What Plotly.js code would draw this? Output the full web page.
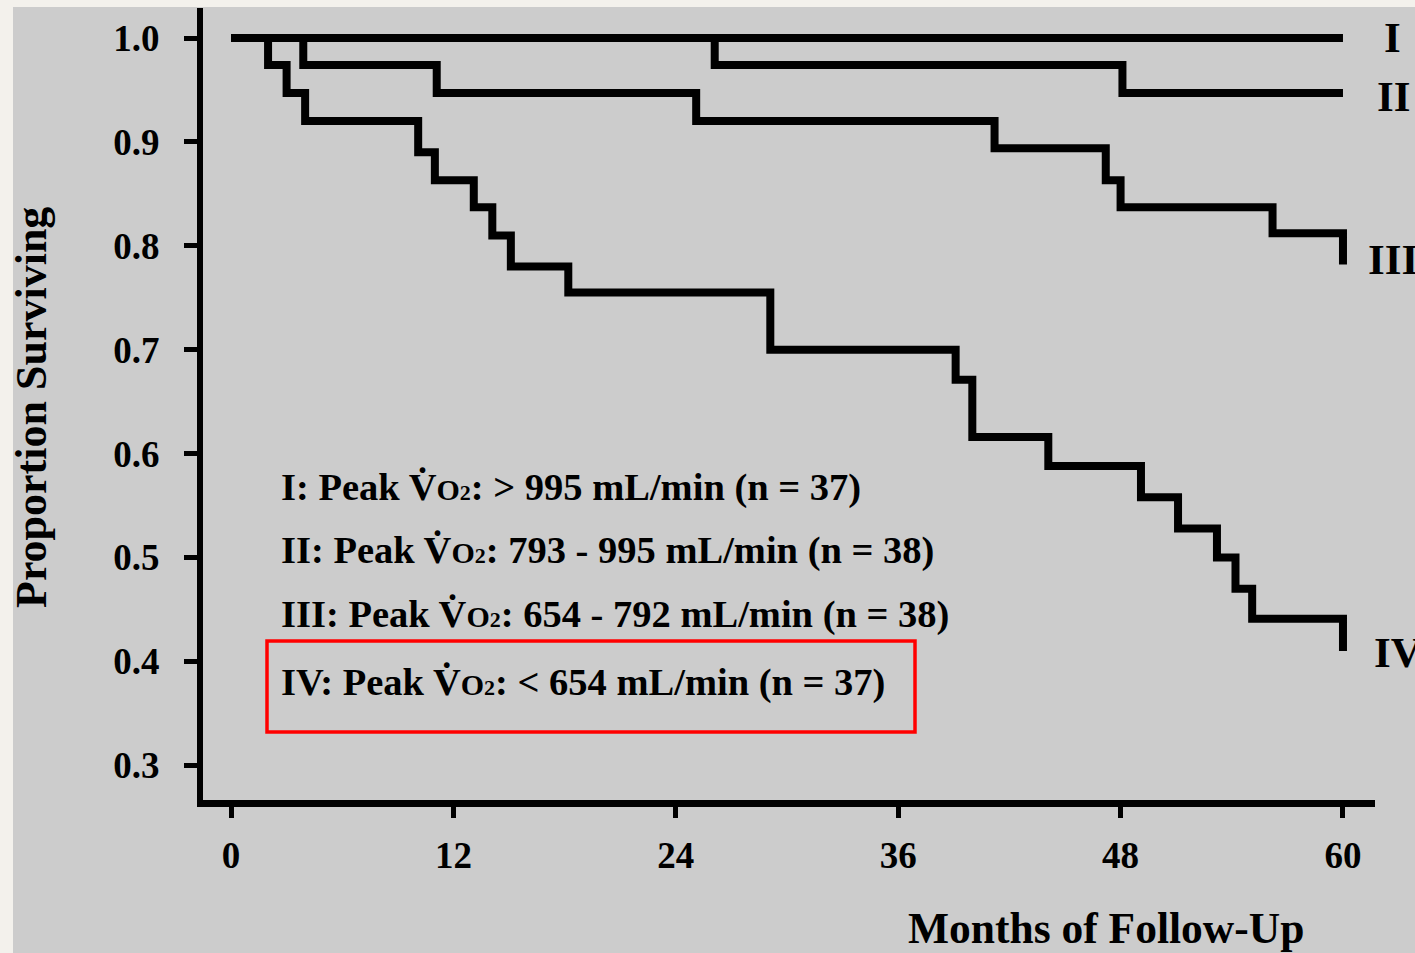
<!DOCTYPE html>
<html>
<head>
<meta charset="utf-8">
<script src="https://cdn.plot.ly/plotly-3.0.1.min.js"></script>
<style>html,body{margin:0;padding:0;background:#cccccc;}#chart{width:1415px;height:953px;}</style>
</head>
<body>
<div id="chart"></div>
<script>
// ---- data ----
const monthsI = [0, 60];
const survI = [1.0, 1.0];

const monthsII = [0, 26.1, 48.1, 60];
const survII = [1.0, 0.974, 0.947, 0.947];

const monthsIII = [0, 3.9, 11.1, 25.1, 41.2, 47.2, 48.0, 56.2, 60];
const survIII = [1.0, 0.974, 0.947, 0.920, 0.894, 0.863, 0.837, 0.812, 0.782];

const monthsIV = [0, 2.0, 3.0, 4.0, 10.1, 11.0, 13.1, 14.1, 15.1, 18.2, 29.1, 39.1, 40.0, 44.1, 49.1, 51.1, 53.2, 54.2, 55.1, 60];
const survIV = [1.0, 0.974, 0.947, 0.920, 0.890, 0.863, 0.837, 0.810, 0.780, 0.755, 0.700, 0.671, 0.616, 0.588, 0.558, 0.528, 0.500, 0.470, 0.441, 0.410];

const xTicks = [0, 12, 24, 36, 48, 60];
const yTicks = [1.0, 0.9, 0.8, 0.7, 0.6, 0.5, 0.4, 0.3];
const yTickText = ['1.0', '0.9', '0.8', '0.7', '0.6', '0.5', '0.4', '0.3'];

const curveLabels = ['I', 'II', 'III', 'IV'];
const vo2 = 'V\u0307<span style="font-size:30px">O</span><span style="font-size:22px">2</span>';
const legendLines = [
  'I: Peak ' + vo2 + ': > 995 mL/min (n = 37)',
  'II: Peak ' + vo2 + ': 793 - 995 mL/min (n = 38)',
  'III: Peak ' + vo2 + ': 654 - 792 mL/min (n = 38)',
  'IV: Peak ' + vo2 + ': < 654 mL/min (n = 37)'
];

// ---- layout helpers (pixel -> paper) ----
const L = 203, R = 1375, T = 8, B = 800;
const px = x => (x - L) / (R - L);
const py = y => (B - y) / (B - T);

const FONT = 'Liberation Serif, Times New Roman, serif';
const lineStyle = {color: '#000000', width: 8, shape: 'hv'};

function curve(x, y, name) {
  return {x: x, y: y, type: 'scatter', mode: 'lines', line: lineStyle, name: name, hoverinfo: 'skip'};
}

const traces = [
  curve(monthsI, survI, 'I'),
  curve(monthsII, survII, 'II'),
  curve(monthsIII, survIII, 'III'),
  curve(monthsIV, survIV, 'IV')
];

const labelPos = [[1382, 38], [1375, 96], [1366, 259], [1372, 652]];
const legendY = [487, 550, 614, 682];

const annotations = [];
curveLabels.forEach((t, i) => {
  annotations.push({text: t, xref: 'paper', yref: 'paper', x: px(labelPos[i][0]), y: py(labelPos[i][1]),
    xanchor: 'left', yanchor: 'middle', showarrow: false,
    font: {family: FONT, size: 43, color: '#000', weight: 'bold'}});
});
legendLines.forEach((t, i) => {
  annotations.push({text: t, xref: 'paper', yref: 'paper', x: px(279), y: py(legendY[i]),
    xanchor: 'left', yanchor: 'middle', showarrow: false,
    font: {family: FONT, size: 38.5, color: '#000', weight: 'bold'}});
});
annotations.push({text: 'Months of Follow-Up', xref: 'paper', yref: 'paper', x: px(1106), y: py(928),
  xanchor: 'center', yanchor: 'middle', showarrow: false,
  font: {family: FONT, size: 43.5, color: '#000', weight: 'bold'}});
annotations.push({text: 'Proportion Surviving', xref: 'paper', yref: 'paper', x: px(32), y: py(408),
  xanchor: 'center', yanchor: 'middle', textangle: -90, showarrow: false,
  font: {family: FONT, size: 44, color: '#000', weight: 'bold'}});

const shapes = [
  // off-white margins of the scanned page
  {type: 'rect', xref: 'paper', yref: 'paper', x0: px(-5), x1: px(13), y0: py(960), y1: py(-5),
    fillcolor: '#f3f1ec', line: {width: 0}, layer: 'below'},
  {type: 'rect', xref: 'paper', yref: 'paper', x0: px(-5), x1: px(1420), y0: py(7), y1: py(-5),
    fillcolor: '#f3f1ec', line: {width: 0}, layer: 'below'},
  // red highlight box
  {type: 'rect', xref: 'paper', yref: 'paper', x0: px(267), x1: px(915), y0: py(732), y1: py(641),
    line: {color: '#ff0000', width: 3.5}, fillcolor: 'rgba(0,0,0,0)'}
];

const layout = {
  width: 1415, height: 953,
  margin: {l: L, r: 1415 - R, t: T, b: 953 - B, pad: 0},
  paper_bgcolor: '#cccccc',
  plot_bgcolor: '#cccccc',
  showlegend: false,
  xaxis: {
    range: [(L - 231) / 18.533, (R - 231) / 18.533],
    tickvals: xTicks, ticktext: xTicks.map(String),
    showgrid: false, zeroline: false,
    showline: true, linecolor: '#000', linewidth: 7,
    ticks: 'outside', ticklen: 11, tickwidth: 5, tickcolor: '#000',
    ticklabelstandoff: 6,
    tickfont: {family: FONT, size: 37, color: '#000', weight: 'bold'}
  },
  yaxis: {
    range: [1 - (B - 38) / 1039, 1 + (38 - T) / 1039],
    tickvals: yTicks, ticktext: yTickText,
    showgrid: false, zeroline: false,
    showline: true, linecolor: '#000', linewidth: 6,
    ticks: 'outside', ticklen: 13, tickwidth: 5, tickcolor: '#000',
    ticklabelstandoff: 17,
    tickfont: {family: FONT, size: 37, color: '#000', weight: 'bold'}
  },
  annotations: annotations,
  shapes: shapes
};

Plotly.newPlot('chart', traces, layout, {displayModeBar: false, staticPlot: true});
</script>
</body>
</html>
